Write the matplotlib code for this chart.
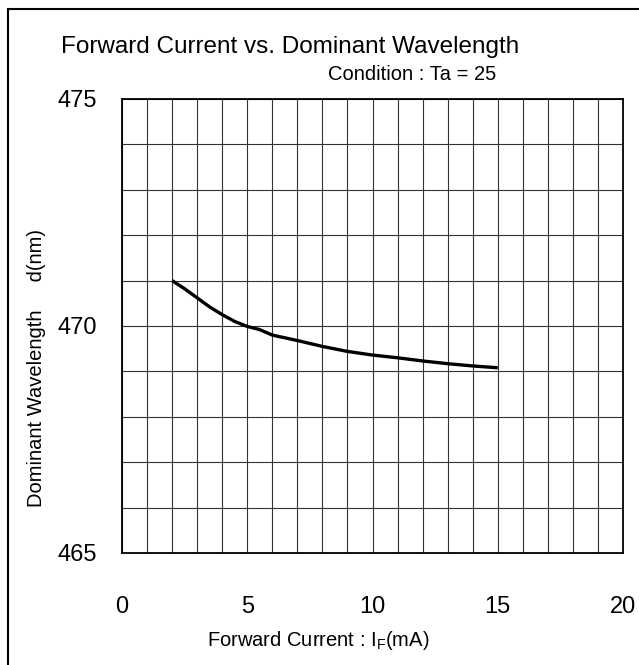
import matplotlib
matplotlib.use("Agg")
import matplotlib.pyplot as plt
from matplotlib.patches import Rectangle
from matplotlib.ticker import MultipleLocator

plt.rcParams["font.family"] = ["Liberation Sans", "DejaVu Sans"]

# data
current_ma = [2, 2.5, 3, 3.5, 4, 4.5, 5, 5.5, 6, 7, 8, 9, 10, 11, 12, 13, 14, 15]
wavelength_nm = [471.0, 470.82, 470.62, 470.42, 470.25, 470.1, 469.99, 469.92,
                 469.8, 469.68, 469.55, 469.44, 469.36, 469.3, 469.23, 469.17,
                 469.12, 469.08]

x_ticks = [0, 5, 10, 15, 20]
y_ticks = [465, 470, 475]

W, H = 639, 665
fig = plt.figure(figsize=(W / 100, H / 100), dpi=100)
ax = fig.add_axes([122 / W, 1 - 553 / H, 501 / W, 454 / H])

ax.plot(current_ma, wavelength_nm, color="black", lw=2.4, solid_capstyle="butt")

ax.set_xlim(0, 20)
ax.set_ylim(465, 475)
ax.set_xticks(x_ticks)
ax.set_yticks(y_ticks)
ax.xaxis.set_minor_locator(MultipleLocator(1))
ax.yaxis.set_minor_locator(MultipleLocator(1))
ax.grid(which="both", color="#333333", lw=0.8)
ax.tick_params(which="both", length=0)
ax.tick_params(axis="x", labelsize=17, pad=31)
ax.tick_params(axis="y", labelsize=17, pad=18)
for s in ax.spines.values():
    s.set_linewidth(1.3)

fig.text(290 / W, 1 - 47 / H, "Forward Current vs. Dominant Wavelength",
         ha="center", va="center", fontsize=17.5)
fig.text(412 / W, 1 - 75 / H, "Condition : Ta = 25",
         ha="center", va="center", fontsize=14.5)
fig.text(318 / W, 1 - 640 / H, "Forward Current : I$_\\mathregular{F}$(mA)",
         ha="center", va="center", fontsize=14.5)
fig.text(37 / W, 1 - 368 / H, "Dominant Wavelength     d(nm)",
         ha="center", va="center", rotation=90, fontsize=14.5)

# page frame, only left and top edges fall inside the image
fig.add_artist(Rectangle((8 / W, -0.2), 2, 1.2 - 9 / H, fill=False,
                         transform=fig.transFigure, lw=1.5, color="black"))

fig.savefig("out.png", dpi=100)
